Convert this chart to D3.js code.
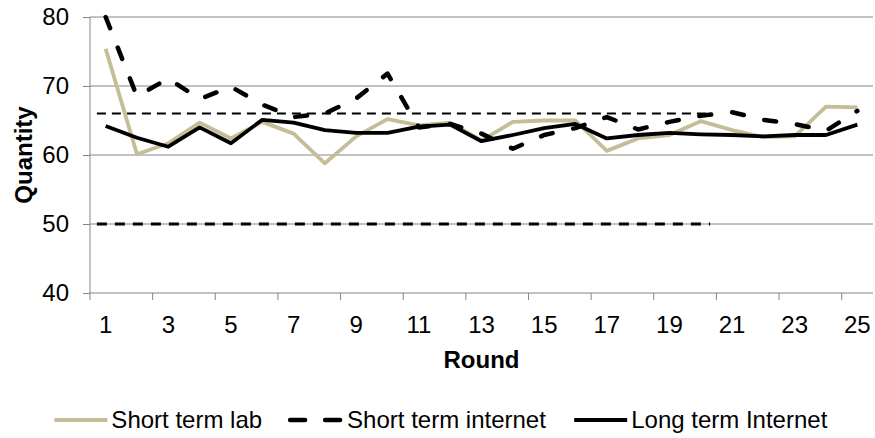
<!DOCTYPE html>
<html>
<head>
<meta charset="utf-8">
<script src="https://cdn.jsdelivr.net/npm/d3@7"></script>
<style>
  body { margin: 0; background: #fff; }
  text { font-family: "Liberation Sans", Arial, sans-serif; fill: #000; }
</style>
</head>
<body>
<script>
var rounds = [1,2,3,4,5,6,7,8,9,10,11,12,13,14,15,16,17,18,19,20,21,22,23,24,25]
var roundLabels = [1,3,5,7,9,11,13,15,17,19,21,23,25]
var yTicks = [40,50,60,70,80]

var shortLab = [75.4,60.1,61.7,64.7,62.4,64.8,63.1,58.8,62.7,65.2,64.3,64.7,62.1,64.8,65.0,65.0,60.6,62.4,62.9,64.9,63.6,62.6,62.7,67.0,66.9]
var shortNet = [80.0,68.5,71.1,68.1,69.9,67.3,65.5,66.0,68.2,71.8,64.0,64.5,63.1,60.9,62.9,63.9,65.5,63.7,64.8,65.7,66.2,65.1,64.5,63.5,66.4]
var longNet  = [64.2,62.5,61.2,64.0,61.7,65.1,64.7,63.6,63.2,63.2,64.1,64.4,62.0,62.9,63.9,64.5,62.4,62.9,63.2,63.0,62.9,62.7,62.9,62.9,64.4]

// horizontal reference levels, spanning rounds refFrom..refTo
var refValues = [66, 50]
var refFrom = 0.72, refTo = 20.3

var seriesNames = ["Short term lab", "Short term internet", "Long term Internet"]

var width = 875, height = 438
var margin = {top: 17, right: 2, bottom: 145, left: 90}
var fontSize = "24px"

var svg = d3.select("body").append("svg")
    .attr("width", width)
    .attr("height", height)

var x = d3.scaleBand()
    .domain(rounds)
    .range([margin.left, width - margin.right])
    .paddingInner(0).paddingOuter(0)
var bw = x.bandwidth()
var cx = r => x(r) + bw / 2
// continuous round position (for reference lines)
var xr = d3.scaleLinear().domain([1, 25]).range([cx(1), cx(25)])

var y = d3.scaleLinear()
    .domain([40, 80])
    .range([height - margin.bottom, margin.top])

var grey = "#868686"

// gridlines
svg.append("g").selectAll("line")
    .data(yTicks.slice(1))
  .enter().append("line")
    .attr("x1", margin.left).attr("x2", width - margin.right)
    .attr("y1", d => y(d)).attr("y2", d => y(d))
    .attr("stroke", grey).attr("stroke-width", 1)

// y axis
var yAxis = d3.axisLeft(y).tickValues(yTicks).tickSize(7).tickPadding(14).tickFormat(d3.format("d"))
var gy = svg.append("g")
    .attr("transform", "translate(" + margin.left + ",0)")
    .call(yAxis)
gy.select(".domain").attr("stroke", grey).attr("d", "M0," + y(80) + "V" + y(40))
gy.selectAll(".tick line").attr("stroke", grey)
gy.selectAll(".tick text").style("font-size", fontSize).style("font-family", "Liberation Sans, Arial, sans-serif")

// x axis
var xAxis = d3.axisBottom(x).tickValues(roundLabels).tickSize(0).tickPadding(23)
var gx = svg.append("g")
    .attr("transform", "translate(0," + y(40) + ")")
    .call(xAxis)
gx.select(".domain").attr("stroke", grey).attr("d", "M" + margin.left + ",0H" + (width - margin.right))
gx.selectAll(".tick text").style("font-size", fontSize).style("font-family", "Liberation Sans, Arial, sans-serif")
// ticks on category boundaries, every second category
svg.append("g").selectAll("line")
    .data(rounds.filter(r => r % 2 === 1))
  .enter().append("line")
    .attr("x1", d => x(d)).attr("x2", d => x(d))
    .attr("y1", y(40)).attr("y2", y(40) + 7)
    .attr("stroke", grey)

// axis titles
svg.append("text")
    .attr("x", (margin.left + width - margin.right) / 2)
    .attr("y", 368)
    .attr("text-anchor", "middle")
    .style("font-size", fontSize).style("font-weight", "bold")
    .text("Round")

svg.append("text")
    .attr("transform", "translate(32," + ((y(40) + y(80)) / 2) + ") rotate(-90)")
    .attr("text-anchor", "middle")
    .style("font-size", fontSize).style("font-weight", "bold")
    .text("Quantity")

// reference lines
svg.append("g").selectAll("line")
    .data(refValues)
  .enter().append("line")
    .attr("x1", xr(refFrom)).attr("x2", xr(refTo))
    .attr("y1", d => y(d)).attr("y2", d => y(d))
    .attr("stroke", "#000")
    .attr("stroke-width", (d, i) => i === 0 ? 2 : 3)
    .attr("stroke-dasharray", (d, i) => i === 0 ? "9,6" : "10,8")

// series
var styles = [
  {color: "#C4BD97", dash: null, w: 3.8},
  {color: "#000", dash: "12,21", w: 4.5},
  {color: "#000", dash: null, w: 3.8}
]
var seriesData = [shortLab, shortNet, longNet]

var line = d3.line()
    .x((d, i) => cx(rounds[i]))
    .y(d => y(d))

svg.append("g").selectAll("path")
    .data(seriesData)
  .enter().append("path")
    .attr("d", line)
    .attr("fill", "none")
    .attr("stroke", (d, i) => styles[i].color)
    .attr("stroke-width", (d, i) => styles[i].w)
    .attr("stroke-dasharray", (d, i) => styles[i].dash)
    .attr("stroke-linecap", (d, i) => styles[i].dash ? "round" : "butt")
    .attr("stroke-linejoin", "round")

// legend
var legend = svg.append("g")
var ly = 420
var items = legend.selectAll("g")
    .data(seriesNames)
  .enter().append("g")
items.append("line")
    .attr("x1", 0).attr("x2", 53)
    .attr("y1", ly).attr("y2", ly)
    .attr("stroke", (d, i) => styles[i].color)
    .attr("stroke-width", (d, i) => styles[i].w)
    .attr("stroke-dasharray", (d, i) => styles[i].dash ? "15,20" : null)
    .attr("stroke-linecap", (d, i) => styles[i].dash ? "round" : "butt")
items.append("text")
    .attr("x", 57)
    .attr("y", ly + 8)
    .style("font-size", fontSize)
    .text(d => d)

var widths = []
items.each(function() { widths.push(this.getBBox().width) })
var gap = 28
var total = d3.sum(widths) + gap * (widths.length - 1)
var start = 441 - total / 2
items.attr("transform", (d, i) => "translate(" + (start + d3.sum(widths.slice(0, i)) + gap * i) + ",0)")
</script>
</body>
</html>
